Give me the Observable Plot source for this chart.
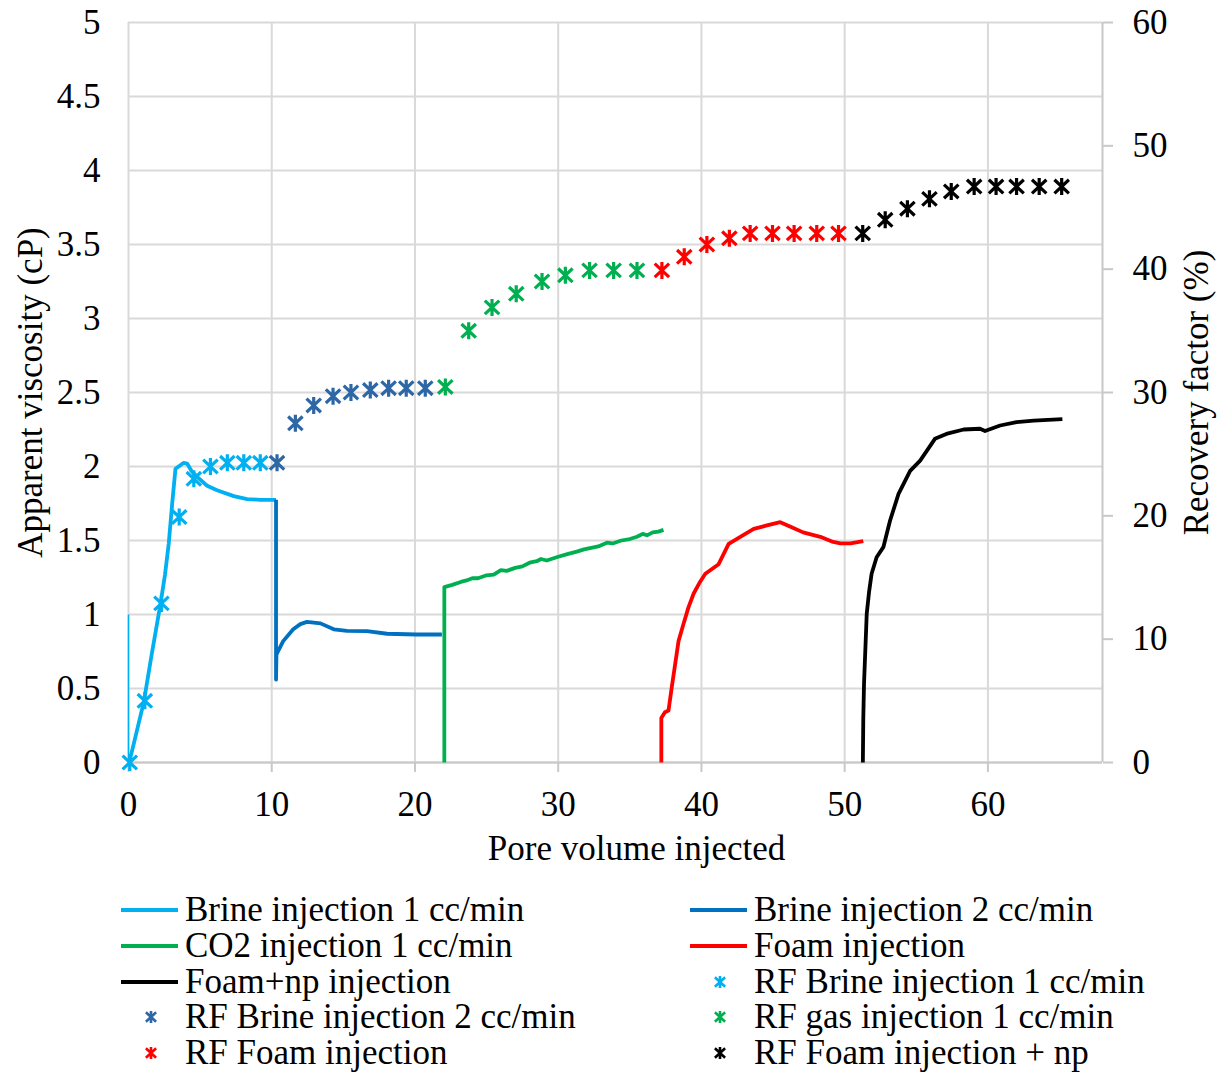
<!DOCTYPE html>
<html>
<head>
<meta charset="utf-8">
<script src="https://cdn.jsdelivr.net/npm/d3@7"></script>
<script src="https://cdn.jsdelivr.net/npm/@observablehq/plot@0.6"></script>
<style>
  html, body { margin: 0; padding: 0; background: #fff; }
  #wrap { position: relative; width: 1220px; height: 1072px; font-family: "Liberation Serif", "Times New Roman", serif; }
  #legend { position: absolute; left: 0; top: 892px; width: 1220px; }
  .item { position: absolute; height: 36px; display: flex; align-items: center; font-size: 35px; color: #000; white-space: nowrap; }
  .item svg { flex: none; margin-right: 7px; }
</style>
</head>
<body>
<div id="wrap"><div id="chart"></div><div id="legend"></div></div>
<script>
// ---- tick values ----
const xTicks = [0, 10, 20, 30, 40, 50, 60];
const yTicks = [0, 0.5, 1, 1.5, 2, 2.5, 3, 3.5, 4, 4.5, 5];
const rfTicks = [0, 10, 20, 30, 40, 50, 60];

// ---- apparent viscosity lines: [pore volume, cP] ----
const brine1Start = [[0, 1.0], [0, 0]];
const brine1 = [[0.05,0],[0.5,0.18],[1.07,0.41],[1.6,0.72],[2.23,1.07],[2.55,1.27],[2.81,1.48],[3.05,1.75],[3.28,1.985],[3.5,2.0],[3.86,2.025],[4.09,2.02],[4.4,1.97],[4.79,1.93],[5.49,1.87],[6.18,1.84],[7.35,1.80],[8.28,1.78],[9.21,1.775],[10.3,1.775]];
const brine2 = [[10.3,1.775],[10.3,0.56],[10.33,0.73],[10.8,0.82],[11.5,0.9],[12.0,0.935],[12.46,0.95],[13.4,0.94],[14.33,0.90],[15.26,0.89],[16.65,0.887],[18.05,0.87],[20.1,0.865],[21.88,0.865]];
const co2 = [[22.05,0],[22.05,1.185],[22.6,1.2],[23.2,1.22],[23.6,1.23],[24.0,1.245],[24.4,1.245],[25.0,1.265],[25.5,1.27],[26.0,1.3],[26.4,1.295],[27.0,1.315],[27.5,1.325],[28.0,1.35],[28.5,1.36],[28.8,1.375],[29.2,1.365],[30.0,1.39],[30.7,1.41],[31.3,1.425],[31.8,1.44],[32.3,1.45],[32.8,1.46],[33.4,1.485],[33.8,1.48],[34.4,1.5],[35.0,1.51],[35.5,1.525],[35.9,1.545],[36.2,1.535],[36.6,1.555],[37.0,1.56],[37.35,1.572]];
const foam = [[37.2,0],[37.2,0.3],[37.45,0.34],[37.7,0.351],[37.93,0.51],[38.17,0.667],[38.4,0.82],[38.75,0.937],[39.1,1.05],[39.45,1.14],[39.9,1.22],[40.27,1.275],[41.2,1.34],[41.9,1.477],[42.8,1.53],[43.65,1.579],[44.5,1.6],[45.5,1.624],[46.3,1.59],[47.1,1.555],[48.3,1.525],[49.2,1.49],[49.7,1.48],[50.4,1.48],[51.0,1.49],[51.3,1.495]];
const foamNp = [[51.27,0],[51.3,0.3],[51.35,0.53],[51.54,1.005],[51.7,1.15],[51.88,1.275],[52.23,1.387],[52.7,1.455],[53.17,1.635],[53.76,1.815],[54.57,1.97],[55.27,2.04],[56.3,2.187],[57.1,2.22],[58.3,2.25],[59.45,2.255],[59.8,2.24],[60.85,2.277],[62.0,2.3],[63.2,2.31],[65.2,2.32]];

// ---- recovery factor markers: [pore volume, %] ----
const rfBrine1 = [[0.09,0],[1.14,5.0],[2.3,12.9],[3.54,19.9],[4.56,23.0],[5.72,24.0],[6.9,24.3],[8.05,24.3],[9.2,24.3]];
const rfBrine2 = [[10.37,24.3],[11.65,27.5],[12.93,28.95],[14.28,29.7],[15.53,30.0],[16.88,30.2],[18.16,30.35],[19.39,30.35],[20.72,30.35]];
const rfGas = [[22.12,30.45],[23.75,35.0],[25.38,36.9],[27.07,38.0],[28.87,39.0],[30.5,39.5],[32.19,39.9],[33.87,39.9],[35.5,39.9]];
const rfFoam = [[37.24,39.9],[38.8,41.0],[40.38,42.0],[41.95,42.5],[43.4,42.9],[44.96,42.9],[46.47,42.9],[48.05,42.9],[49.57,42.9]];
const rfFoamNp = [[51.26,42.9],[52.83,44.0],[54.38,44.9],[55.92,45.7],[57.44,46.3],[59.04,46.7],[60.57,46.7],[62.0,46.7],[63.58,46.7],[65.15,46.7]];

// ---- series labels / colours ----
const C = {brine1: "#00b0f0", brine2: "#0070c0", co2: "#00b050", foam: "#ff0000", foamNp: "#000000",
           rfBrine1: "#00b0f0", rfBrine2: "#2e67a6", rfGas: "#00b050", rfFoam: "#ff0000", rfFoamNp: "#000000"};
const legendItems = [
  {label: "Brine injection 1 cc/min", type: "line", color: C.brine1},
  {label: "Brine injection 2 cc/min", type: "line", color: C.brine2},
  {label: "CO2 injection 1 cc/min", type: "line", color: C.co2},
  {label: "Foam injection", type: "line", color: C.foam},
  {label: "Foam+np injection", type: "line", color: C.foamNp},
  {label: "RF Brine injection 1 cc/min", type: "dot", color: C.rfBrine1},
  {label: "RF Brine injection 2 cc/min", type: "dot", color: C.rfBrine2},
  {label: "RF gas injection 1 cc/min", type: "dot", color: C.rfGas},
  {label: "RF Foam injection", type: "dot", color: C.rfFoam},
  {label: "RF Foam injection + np", type: "dot", color: C.rfFoamNp}
];

const RF_PER_CP = 12; // right axis 0–60 % maps onto left 0–5 cP

// Excel-style star marker: X plus vertical bar
const star = {
  draw(ctx, size) {
    const r = Math.sqrt(size / Math.PI);
    const w = r * 0.85, h = r * 0.8;
    ctx.moveTo(0, -r); ctx.lineTo(0, r);
    ctx.moveTo(-w, -h); ctx.lineTo(w, h);
    ctx.moveTo(-w, h); ctx.lineTo(w, -h);
  }
};

const X = d => d[0], Y = d => d[1], YRF = d => d[1] / RF_PER_CP;
const lineOpts = (c, w = 3.8) => ({x: X, y: Y, stroke: c, strokeWidth: w, strokeLinejoin: "round", strokeLinecap: "butt"});
const dotOpts = c => ({x: X, y: YRF, symbol: star, r: 8.5, stroke: c, strokeWidth: 3.2, fill: "none"});
const gridColor = "#d9d9d9";

const chart = Plot.plot({
  width: 1220,
  height: 880,
  marginLeft: 128,
  marginRight: 118,
  marginTop: 22,
  marginBottom: 118,
  x: {domain: [0, 68]},
  y: {domain: [0, 5]},
  style: {fontFamily: "'Liberation Serif', 'Times New Roman', serif", fontSize: "35px", color: "#000", background: "#fff"},
  marks: [
    Plot.gridY(yTicks, {stroke: gridColor, strokeOpacity: 1, strokeWidth: 2}),
    Plot.gridX(xTicks, {stroke: gridColor, strokeOpacity: 1, strokeWidth: 2}),
    Plot.ruleX([68], {stroke: "#c8c8c8", strokeWidth: 2}),
    Plot.ruleY([0], {stroke: "#c8c8c8", strokeWidth: 2}),
    Plot.axisY(yTicks, {anchor: "left", tickSize: 0, tickPadding: 28, label: null, tickFormat: d => String(d), fill: "#000"}),
    Plot.axisY(rfTicks.map(v => v / RF_PER_CP), {anchor: "right", tickSize: 10, tickPadding: 20, label: null,
      stroke: "#c8c8c8", strokeWidth: 2, fill: "#000", tickFormat: d => String(Math.round(d * RF_PER_CP))}),
    Plot.axisX(xTicks, {anchor: "bottom", tickSize: 10, tickPadding: 19, label: null, stroke: "#c8c8c8", strokeWidth: 2, fill: "#000"}),
    Plot.text(["Pore volume injected"], {frameAnchor: "bottom", dx: 21, dy: 86, lineAnchor: "middle", fill: "#000"}),
    Plot.text(["Apparent viscosity (cP)"], {frameAnchor: "left", dx: -98, rotate: -90, textAnchor: "middle", lineAnchor: "middle", fill: "#000"}),
    Plot.text(["Recovery factor (%)"], {frameAnchor: "right", dx: 94, rotate: -90, textAnchor: "middle", lineAnchor: "middle", fill: "#000"}),
    Plot.line(brine1Start, lineOpts(C.brine1, 1.5)),
    Plot.line(brine1, lineOpts(C.brine1)),
    Plot.line(brine2, lineOpts(C.brine2)),
    Plot.line(co2, lineOpts(C.co2)),
    Plot.line(foam, lineOpts(C.foam)),
    Plot.line(foamNp, lineOpts(C.foamNp)),
    Plot.dot(rfBrine1, dotOpts(C.rfBrine1)),
    Plot.dot(rfBrine2, dotOpts(C.rfBrine2)),
    Plot.dot(rfGas, dotOpts(C.rfGas)),
    Plot.dot(rfFoam, dotOpts(C.rfFoam)),
    Plot.dot(rfFoamNp, dotOpts(C.rfFoamNp))
  ]
});
document.getElementById("chart").appendChild(chart);

// ---- legend (two columns, five rows) ----
const legend = document.getElementById("legend");
const colLeft = [121, 690];
legendItems.forEach((it, i) => {
  const col = i % 2, row = Math.floor(i / 2);
  const div = document.createElement("div");
  div.className = "item";
  div.style.left = colLeft[col] + "px";
  div.style.top = (row * 35.8) + "px";
  const svg = d3.create("svg").attr("width", 57).attr("height", 36);
  if (it.type === "line") {
    svg.append("line").attr("x1", 0).attr("x2", 57).attr("y1", 18).attr("y2", 18)
      .attr("stroke", it.color).attr("stroke-width", 4);
  } else {
    const s = 6;
    svg.append("path").attr("transform", "translate(30,18)")
      .attr("d", `M0,${-s}L0,${s}M${-s*0.85},${-s*0.8}L${s*0.85},${s*0.8}M${-s*0.85},${s*0.8}L${s*0.85},${-s*0.8}`)
      .attr("stroke", it.color).attr("stroke-width", 2.6).attr("fill", "none");
  }
  div.appendChild(svg.node());
  const span = document.createElement("span");
  span.textContent = it.label;
  div.appendChild(span);
  legend.appendChild(div);
});
</script>
</body>
</html>
